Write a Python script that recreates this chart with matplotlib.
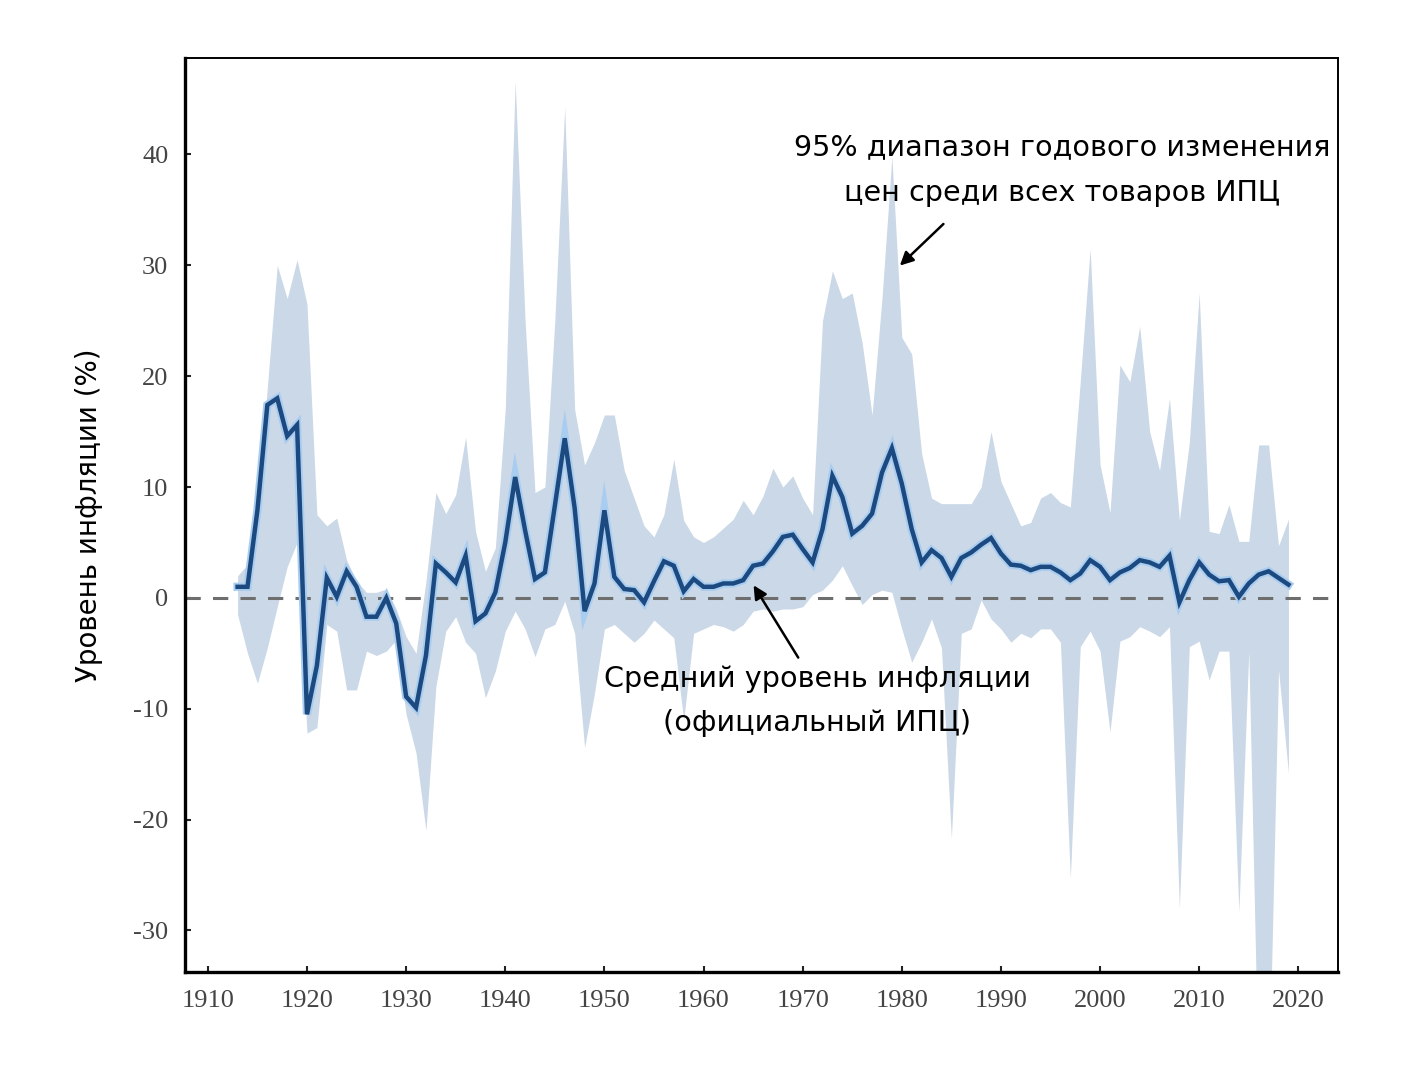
import numpy as np
import matplotlib
matplotlib.use('Agg')
import matplotlib.pyplot as plt

# Datos (1913-2019)
anios = np.arange(1913, 2020)

media = [
    1.0, 1.0, 7.9, 17.4, 18.0, 14.6, 15.6,
    -10.5, -6.1, 1.8, 0.1, 2.4, 1.0, -1.7, -1.7, 0.0, -2.3,
    -8.9, -9.9, -5.2, 3.1, 2.3, 1.4, 3.8, -2.1, -1.4, 0.5,
    5.0, 10.9, 6.1, 1.7, 2.3, 8.3, 14.4, 8.1, -1.2, 1.3,
    7.9, 1.9, 0.8, 0.7, -0.4, 1.5, 3.3, 2.9, 0.6, 1.7,
    1.0, 1.0, 1.3, 1.3, 1.6, 2.9, 3.1, 4.2, 5.5, 5.7,
    4.4, 3.2, 6.2, 11.0, 9.1, 5.8, 6.5, 7.6, 11.3, 13.5,
    10.3, 6.2, 3.2, 4.3, 3.6, 1.9, 3.6, 4.1, 4.8, 5.4,
    4.0, 3.0, 2.9, 2.5, 2.8, 2.8, 2.3, 1.6, 2.2, 3.4,
    2.8, 1.6, 2.3, 2.7, 3.4, 3.2, 2.8, 3.8, -0.4, 1.6,
    3.2, 2.1, 1.5, 1.6, 0.1, 1.3, 2.1, 2.4, 1.8, 1.2,
]

superior = [
    2.0, 3.0, 8.0, 19.0, 30.0, 27.0, 30.5,
    26.5, 7.5, 6.5, 7.2, 3.4, 1.5, 0.5, 0.5, 0.8, -1.0,
    -3.5, -5.0, 1.5, 9.5, 7.6, 9.3, 14.5, 6.0, 2.4, 4.5,
    17.0, 46.6, 25.0, 9.5, 10.0, 25.0, 44.3, 17.0, 12.0, 14.0,
    16.5, 16.5, 11.5, 9.0, 6.5, 5.5, 7.5, 12.5, 7.0, 5.5,
    5.0, 5.5, 6.3, 7.1, 8.8, 7.5, 9.2, 11.7, 10.0, 11.0,
    9.0, 7.5, 25.0, 29.5, 27.0, 27.5, 23.0, 16.5, 27.0, 39.8,
    23.5, 22.0, 13.0, 9.0, 8.5, 8.5, 8.5, 8.5, 10.0, 15.0,
    10.5, 8.5, 6.5, 6.8, 9.0, 9.5, 8.6, 8.2, 19.5, 31.5,
    12.0, 7.7, 21.0, 19.5, 24.5, 15.0, 11.5, 18.0, 7.0, 14.0,
    27.5, 6.0, 5.8, 8.4, 5.1, 5.1, 13.8, 13.8, 4.7, 7.1,
]

inferior = [
    -1.5, -5.0, -7.7, -4.5, -0.8, 2.8, 5.0,
    -12.2, -11.7, -2.4, -3.0, -8.3, -8.3, -4.8, -5.2, -4.8, -3.8,
    -10.5, -14.0, -21.0, -8.0, -3.0, -1.7, -4.0, -5.0, -9.0, -6.6,
    -3.0, -1.2, -2.8, -5.3, -2.8, -2.4, -0.3, -3.2, -13.5, -8.6,
    -2.8, -2.4, -3.2, -4.0, -3.2, -2.0, -2.8, -3.6, -11.0, -3.2,
    -2.8, -2.4, -2.6, -3.0, -2.4, -1.2, -1.0, -1.2, -1.0, -1.0,
    -0.8, 0.3, 0.7, 1.6, 2.9, 1.1, -0.6, 0.3, 0.7, 0.5,
    -2.8, -5.8, -4.0, -1.9, -4.5, -21.7, -3.2, -2.8, -0.2, -1.9,
    -2.8, -4.0, -3.2, -3.6, -2.8, -2.8, -4.0, -25.3, -4.4, -3.0,
    -4.8, -12.1, -3.9, -3.5, -2.6, -3.0, -3.5, -2.6, -28.0, -4.4,
    -3.9, -7.4, -4.8, -4.8, -28.3, -4.8, -45.0, -45.0, -6.5, -15.8,
]

ticks_x = [1910, 1920, 1930, 1940, 1950, 1960, 1970, 1980, 1990, 2000, 2010, 2020]
ticks_y = [-30, -20, -10, 0, 10, 20, 30, 40]

texto_rango = "95% диапазон годового изменения\nцен среди всех товаров ИПЦ"
texto_media = "Средний уровень инфляции\n(официальный ИПЦ)"

fig = plt.figure(figsize=(14.04, 10.78), dpi=100)
ax = fig.add_axes([0.1318, 0.0983, 0.8212, 0.8479])

# Banda del 95% y linea media
ax.fill_between(anios, inferior, superior, color='#cbd8e7', linewidth=0, zorder=1)
ax.axhline(0, color='#6e6e6e', linestyle=(0, (5, 4)), linewidth=2.2, zorder=2)
ax.plot(anios, media, color='#a9cdf0', linewidth=6, zorder=3, solid_joinstyle='miter')
ax.plot(anios, media, color='#1c4a80', linewidth=3.2, zorder=4, solid_joinstyle='miter')

ax.set_xlim(1907.7, 2024.0)
ax.set_ylim(-33.75, 48.7)

ax.set_xticks(ticks_x)
ax.set_xticklabels([str(t) for t in ticks_x])
ax.set_yticks(ticks_y)
ax.set_yticklabels([str(t) for t in ticks_y])
ax.tick_params(direction='in', length=4, width=1.5, color='#222222', labelcolor='#444444',
               labelsize=19)
ax.tick_params(axis='x', pad=13)
ax.tick_params(axis='y', pad=12)
for lbl in ax.get_xticklabels() + ax.get_yticklabels():
    lbl.set_fontfamily('Liberation Serif')

for lado in ['left', 'bottom']:
    ax.spines[lado].set_linewidth(2.4)
for lado in ['top', 'right']:
    ax.spines[lado].set_linewidth(1.4)

ax.set_ylabel('Уровень инфляции (%)', fontsize=20, fontfamily='DejaVu Sans', labelpad=22)

# Anotaciones
ax.text(1996.2, 38.6, texto_rango, ha='center', va='center', fontsize=20.6,
        fontfamily='DejaVu Sans', linespacing=1.8, zorder=5)
ax.annotate('', xy=(1979.6, 29.8), xytext=(1984.4, 33.9),
            arrowprops=dict(arrowstyle='-|>', color='black', lw=1.8, mutation_scale=20))

ax.text(1971.45, -9.3, texto_media, ha='center', va='center', fontsize=20.6,
        fontfamily='DejaVu Sans', linespacing=1.7, zorder=5)
ax.annotate('', xy=(1964.9, 1.35), xytext=(1969.7, -5.6),
            arrowprops=dict(arrowstyle='-|>', color='black', lw=1.8, mutation_scale=20))

fig.savefig('out.png', dpi=100)
